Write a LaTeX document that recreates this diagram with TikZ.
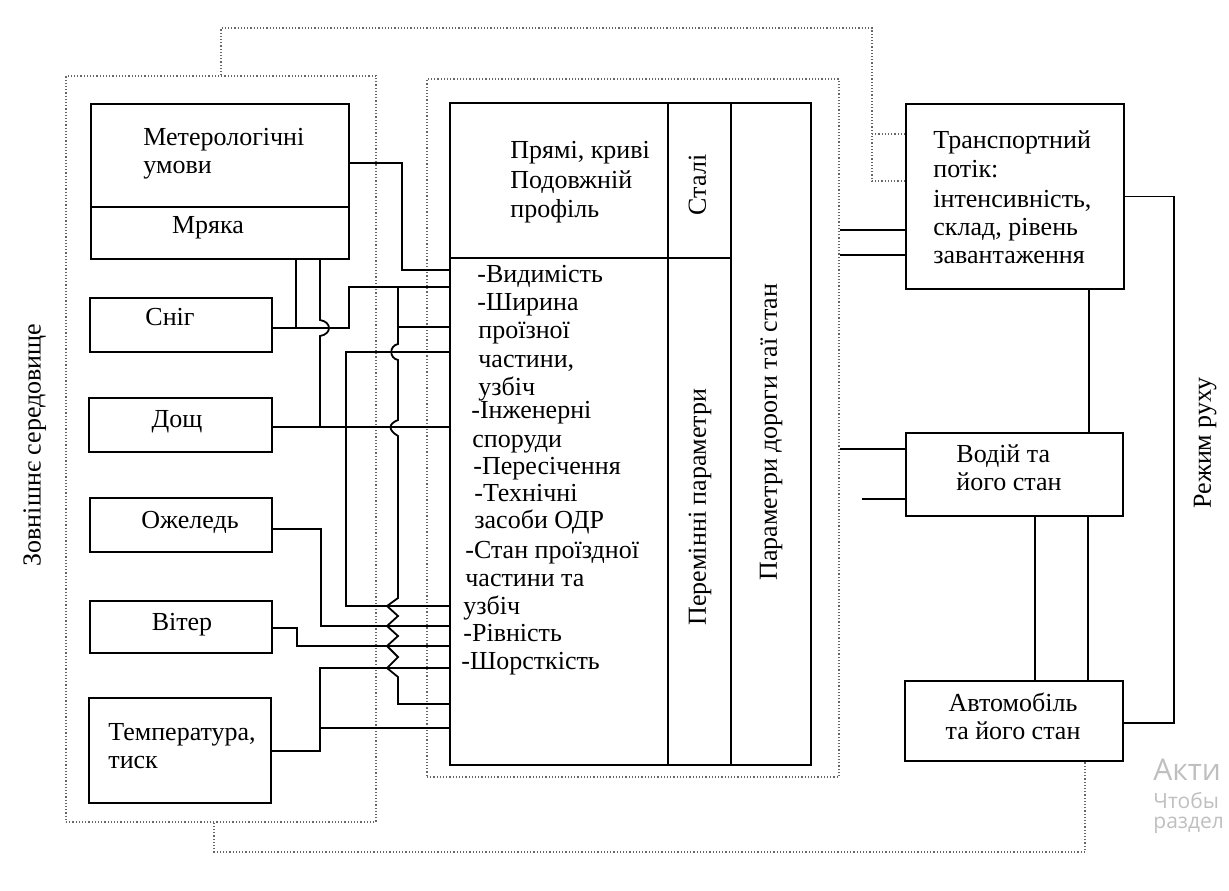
\documentclass[tikz,border=0pt]{standalone}
\usepackage{fontspec}
\setmainfont{Liberation Serif}
\newfontfamily\wmfont{Open Sans}
\newcommand\txtsize{\fontsize{13}{14}\selectfont}
\tikzset{
  box/.style={draw, line width=0.9pt, inner sep=0pt},
  dotbox/.style={draw=black!60, densely dotted, line width=0.6pt, inner sep=0pt},
  wire/.style={line width=0.9pt},
  dotwire/.style={draw=black!60, densely dotted, line width=0.6pt},
  txt/.style={inner sep=0pt, text height=1.5ex, text depth=.25ex, font=\txtsize},
  wm/.style={anchor=west, inner sep=0pt, black!25},
}
\begin{document}
\begin{tikzpicture}[x=0.5pt, y=-0.5pt]
\useasboundingbox (0,0) rectangle (1229,890);
\node (env) at (221,449) [dotbox, minimum width=155pt, minimum height=373pt] {};
\node (mid) at (633,428) [dotbox, minimum width=206pt, minimum height=349pt] {};
\node (meteo) at (220,181.5) [box, minimum width=129pt, minimum height=77.5pt] {};
\node (snig) at (181,325) [box, minimum width=91pt, minimum height=27pt] {};
\node (dosch) at (180.5,425) [box, minimum width=91.5pt, minimum height=27pt] {};
\node (ozh) at (181,525) [box, minimum width=91pt, minimum height=27pt] {};
\node (viter) at (181,627) [box, minimum width=91pt, minimum height=26pt] {};
\node (temp) at (180,750.5) [box, minimum width=91pt, minimum height=52.5pt] {};
\node (road) at (630.5,434) [box, minimum width=180.5pt, minimum height=331pt] {};
\node (trans) at (1015,196.5) [box, minimum width=109pt, minimum height=92.5pt] {};
\node (driver) at (1014.5,474.5) [box, minimum width=108.5pt, minimum height=41.5pt] {};
\node (car) at (1014,721) [box, minimum width=109pt, minimum height=40pt] {};
\coordinate (free) at (862,499);

\draw[wire] (meteo.west |- 0,207) -- (meteo.east |- 0,207);
\draw[wire] (road.north -| 668,0) -- (road.south -| 668,0);
\draw[wire] (road.north -| 731,0) -- (road.south -| 731,0);
\draw[wire] (road.west |- 0,258) -- (731,258);

\node[txt, anchor=west] (tmet1) at (143,140) {Метерологічні};
\node[txt, anchor=west] (tmet2) at (143,168) {умови};
\node[txt] (tmrya) at (208,228) {Мряка};
\node[txt] (tsnig) at (170,320) {Сніг};
\node[txt] (tdosch) at (177,422) {Дощ};
\node[txt] (tozh) at (190,523) {Ожеледь};
\node[txt] (tviter) at (182,625) {Вітер};
\node[txt, anchor=west] (ttemp1) at (108,735) {Температура,};
\node[txt, anchor=west] (ttemp2) at (108,763) {тиск};
\node[txt, rotate=90] (tenv) at (35,445) {Зовнішнє середовище};

\node[txt, anchor=west] (tconst1) at (510,153) {Прямі, криві};
\node[txt, anchor=west] (tconst2) at (510,183) {Подовжній};
\node[txt, anchor=west] (tconst3) at (510,212) {профіль};
\node[txt, rotate=90] (tstali) at (700,185) {Сталі};
\node[txt, rotate=90] (tvar) at (700,507) {Перемінні параметри};
\node[txt, rotate=90] (troad) at (771,432) {Параметри дороги таї стан};
\foreach \y/\x/\t [count=\i] in {277/477/-Видимість, 305/477/-Ширина, 333/478/проїзної,
    362/478/{частини,}, 390/478/узбіч, 413/471/-Інженерні, 442/472/споруди,
    469/473/-Пересічення, 496/474/-Технічні, 523/474/засоби ОДР,
    553/465/-Стан проїздної, 581/465/частини та, 609/463/узбіч,
    636/463/-Рівність, 664/461/-Шорсткість}
  \node[txt, anchor=west] (var\i) at (\x,\y) {\t};

\node[txt, anchor=west] (ttr1) at (933,143) {Транспортний};
\node[txt, anchor=west] (ttr2) at (933,172) {потік:};
\node[txt, anchor=west] (ttr3) at (933,202) {інтенсивність,};
\node[txt, anchor=west] (ttr4) at (933,230) {склад, рівень};
\node[txt, anchor=west] (ttr5) at (933,258) {завантаження};
\node[txt, anchor=west] (tdr1) at (956,457) {Водій та};
\node[txt, anchor=west] (tdr2) at (956,485) {його стан};
\node[txt] (tcar1) at (1013,706) {Автомобіль};
\node[txt] (tcar2) at (1013,734) {та його стан};
\node[txt, rotate=90] (tmode) at (1205,443) {Режим руху};

\draw[wire] (meteo.east |- 0,163) -- (402,163) -- (402,270) -- (road.west |- 0,270);
\draw[wire] (snig.east |- 0,328) -- (349,328) -- (349,287) -- (road.west |- 0,287);
\draw[wire] (398,287) -- (398,344) .. controls (389,346) and (389,358) .. (398,360)
  -- (398,420) .. controls (388,424) and (388,430) .. (398,436)
  -- (398,598) -- (387,606) -- (398,616) -- (387,626) -- (398,636) -- (387,646)
  -- (398,657) -- (387,668) -- (398,677) -- (398,704) -- (road.west |- 0,704);
\draw[wire] (398,327) -- (road.west |- 0,327);
\draw[wire] (meteo.south -| 296,0) -- (296,328);
\draw[wire] (meteo.south -| 320,0) -- (320,320) .. controls (332,322) and (332,334) .. (320,336) -- (320,427);
\draw[wire] (dosch.east |- 0,427) -- (road.west |- 0,427);
\draw[wire] (road.west |- 0,352) -- (346,352) -- (346,606) -- (road.west |- 0,606);
\draw[wire] (ozh.east |- 0,529) -- (321,529) -- (321,626) -- (road.west |- 0,626);
\draw[wire] (viter.east |- 0,628) -- (297,628) -- (297,646) -- (road.west |- 0,646);
\draw[wire] (temp.east |- 0,751) -- (320,751) -- (320,668) -- (road.west |- 0,668);
\draw[wire] (320,728) -- (road.west |- 0,728);

\draw[wire] (mid.east |- 0,230) -- (trans.west |- 0,230);
\draw[wire] (mid.east |- 0,255) -- (trans.west |- 0,255);
\draw[wire] (mid.east |- 0,449) -- (driver.west |- 0,449);
\draw[wire] (free) -- (driver.west |- free);
\draw[wire] (trans.east) -- (1174,196.5) -- (1174,723) -- (car.east |- 0,723);
\draw[wire] (trans.south -| 1089,0) -- (driver.north -| 1089,0);
\draw[wire] (driver.south -| 1035,0) -- (car.north -| 1035,0);
\draw[wire] (driver.south -| 1088,0) -- (car.north -| 1088,0);

\draw[dotwire] (env.north) -- (221,28) -- (872,28) -- (872,181) -- (trans.west |- 0,181);
\draw[dotwire] (872,134) -- (trans.west |- 0,134);
\draw[dotwire] (env.south -| 214,0) -- (214,852) -- (1085,852) -- (car.south -| 1085,0);

\node[wm, font=\wmfont\fontsize{15}{15}\selectfont] (wm1) at (1153,770) {Акти};
\node[wm, font=\wmfont\fontsize{10.5}{11}\selectfont] (wm2) at (1153,801) {Чтобы};
\node[wm, font=\wmfont\fontsize{10.5}{11}\selectfont] (wm3) at (1153,825) {раздел};
\end{tikzpicture}
\end{document}
